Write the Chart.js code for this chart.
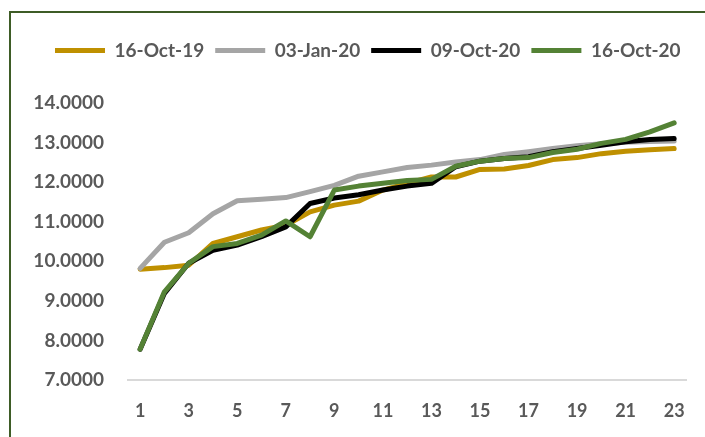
<!DOCTYPE html>
<html>
<head>
<meta charset="utf-8">
<script src="https://cdn.jsdelivr.net/npm/chart.js@4.4.1/dist/chart.umd.min.js"></script>
<style>
    html, body { margin: 0; padding: 0; background: #fff; overflow: hidden; }
    #frame {
        position: absolute; left: 9px; top: 11px;
        width: 740px; height: 470px;
        border: 2px solid #3e5c26;
    }
    #chart { position: absolute; left: 0; top: 0; }
</style>
</head>
<body>
<div id="frame"></div>
<canvas id="chart" width="705" height="437"></canvas>
<script>
// data
const categories = ['1', '2', '3', '4', '5', '6', '7', '8', '9', '10', '11', '12',
    '13', '14', '15', '16', '17', '18', '19', '20', '21', '22', '23'];
const seriesNames = ['16-Oct-19', '03-Jan-20', '09-Oct-20', '16-Oct-20'];
const oct19 = [9.80, 9.84, 9.90, 10.45, 10.62, 10.79, 10.91, 11.25, 11.42, 11.52, 11.80, 11.97,
    12.13, 12.13, 12.32, 12.33, 12.42, 12.57, 12.62, 12.72, 12.78, 12.82, 12.85];
const jan20 = [9.82, 10.48, 10.72, 11.20, 11.53, 11.57, 11.61, 11.76, 11.92, 12.15, 12.26, 12.37,
    12.43, 12.51, 12.57, 12.70, 12.77, 12.85, 12.92, 12.97, 13.01, 13.03, 13.04];
const oct20a = [7.78, 9.19, 9.95, 10.28, 10.41, 10.62, 10.87, 11.46, 11.60, 11.68, 11.80, 11.90,
    11.97, 12.39, 12.53, 12.60, 12.64, 12.77, 12.85, 12.93, 13.02, 13.08, 13.10];
const oct20b = [7.78, 9.23, 9.95, 10.37, 10.45, 10.66, 11.02, 10.62, 11.80, 11.90, 11.97, 12.04,
    12.07, 12.40, 12.53, 12.60, 12.62, 12.75, 12.83, 12.98, 13.08, 13.27, 13.50];
const yMin = 7, yMax = 14, yStep = 1;

const colors = ['#bf9000', '#a5a5a5', '#000000', '#548235'];
const values = [oct19, jan20, oct20a, oct20b];

const textColor = '#595959';
const fontFamily = 'Lato, "Open Sans", sans-serif';

function makeSet(i) {
    return {
        label: seriesNames[i],
        data: values[i],
        borderColor: colors[i],
        backgroundColor: colors[i],
        borderWidth: 5,
        borderCapStyle: 'round',
        borderJoinStyle: 'round',
        pointRadius: 0,
        pointStyle: 'line',
        tension: 0,
        fill: false,
        order: 3 - i   // later series drawn on top, like the original
    };
}

// legend in the original sits a bit right of the plot's left edge
const legendShift = {
    id: 'legendShift',
    afterLayout(chart) {
        chart.legend.left += 17;
        chart.legend.right += 17;
    }
};

const ctx = document.getElementById('chart').getContext('2d');

const chart = new Chart(ctx, {
    type: 'line',
    data: {
        labels: categories,
        datasets: [0, 1, 2, 3].map(makeSet)
    },
    plugins: [legendShift],
    options: {
        responsive: false,
        animation: false,
        layout: {
            padding: { left: 27, right: 18, top: 30, bottom: 15 }
        },
        plugins: {
            tooltip: { enabled: false },
            legend: {
                position: 'top',
                align: 'start',
                weight: 3000,
                labels: {
                    usePointStyle: true,
                    pointStyleWidth: 50,
                    boxHeight: 6,
                    padding: 11,
                    color: textColor,
                    font: { family: fontFamily, size: 19, weight: 'bold' },
                    sort: (a, b) => a.datasetIndex - b.datasetIndex
                }
            },
            // empty title only used as a gap between legend and plot
            title: {
                display: true,
                text: '',
                padding: { top: 0, bottom: 21 },
                font: { size: 10, lineHeight: 1.2 }
            }
        },
        scales: {
            x: {
                offset: true,
                grid: { display: false, drawTicks: false },
                border: { display: true, color: '#d9d9d9', width: 2 },
                afterFit: (scale) => { scale.height = 42; },
                ticks: {
                    autoSkip: false,
                    maxRotation: 0,
                    padding: 20,
                    color: textColor,
                    font: { family: fontFamily, size: 18, weight: 'bold' },
                    callback: function (val, index) {
                        return index % 2 === 0 ? this.getLabelForValue(val) : null;
                    }
                }
            },
            y: {
                min: yMin,
                max: yMax,
                grid: { display: false, drawTicks: false },
                border: { display: false },
                afterFit: (scale) => { scale.width = 101; },
                ticks: {
                    stepSize: yStep,
                    padding: 24,
                    color: textColor,
                    font: { family: fontFamily, size: 19, weight: 'bold' },
                    callback: (v) => v.toFixed(4)
                }
            }
        }
    }
});
</script>
</body>
</html>
